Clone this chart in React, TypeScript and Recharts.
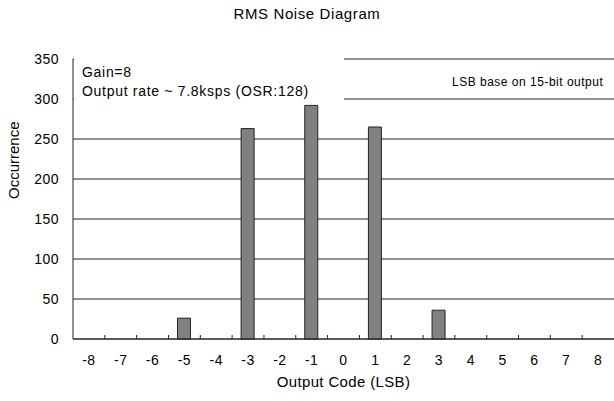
import { Bar, BarChart, CartesianGrid, XAxis, YAxis } from "recharts";

// output codes in LSB and how often each one occurred
const codes = [-8, -7, -6, -5, -4, -3, -2, -1, 0, 1, 2, 3, 4, 5, 6, 7, 8];
const counts = [0, 0, 0, 26, 0, 263, 0, 292, 0, 265, 0, 36, 0, 0, 0, 0, 0];
const yTicks = [0, 50, 100, 150, 200, 250, 300, 350];

const W = 614;
const H = 401;
const LEFT = 73;
const TOP = 59;
const BAND = (W - LEFT) / codes.length;
const FONT = "'Liberation Sans', Arial, sans-serif";

const data = codes.map((code, i) => ({ code: String(code), count: counts[i] }));

function CodeTick(props: any) {
  const { x, y, payload, index } = props;
  return (
    <g>
      {index < codes.length - 1 && (
        <line x1={x + BAND / 2} x2={x + BAND / 2} y1={y - 4} y2={y} stroke="#222" />
      )}
      <text x={x} y={y + 26} textAnchor="middle" fontSize={14} letterSpacing={0.5} fill="#000" fontFamily={FONT}>
        {payload.value}
      </text>
    </g>
  );
}

export default function App() {
  return (
    <div style={{ position: "absolute", left: 0, top: 0, width: W, height: H, background: "#fff", fontFamily: FONT }}>
      <div style={{ position: "absolute", top: 5, left: 0, width: W, textAlign: "center", fontSize: 15, letterSpacing: 0.6 }}>
        RMS Noise Diagram
      </div>
      <BarChart width={W} height={H} data={data} margin={{ top: TOP, right: 0, bottom: 12, left: 0 }} barSize={13}>
        <CartesianGrid vertical={false} stroke="#222" />
        <XAxis
          dataKey="code"
          height={50}
          tickLine={false}
          tickSize={0}
          tickMargin={0}
          stroke="#222"
          tick={<CodeTick />}
          interval={0}
          label={{ value: "Output Code (LSB)", position: "insideBottom", offset: 2, fontSize: 15, letterSpacing: 0.35, fill: "#000", fontFamily: FONT }}
        />
        <YAxis
          width={LEFT}
          domain={[0, 350]}
          ticks={yTicks}
          tickLine={false}
          tickSize={6}
          tickMargin={8}
          stroke="#222"
          tick={{ fontSize: 14, fill: "#000", fontFamily: FONT, letterSpacing: 0.5 }}
          label={{ value: "Occurrence", angle: -90, position: "insideLeft", offset: 14, fontSize: 15, fill: "#000", fontFamily: FONT }}
        />
        <Bar dataKey="count" fill="#808080" stroke="#222" strokeWidth={1} isAnimationActive={false} />
      </BarChart>
      <div style={{ position: "absolute", left: 74, top: 58, width: 270, height: 42, background: "#fff", fontSize: 14, lineHeight: "19px", letterSpacing: 0.7 }}>
        <div style={{ paddingLeft: 8, paddingTop: 5 }}>Gain=8</div>
        <div style={{ paddingLeft: 8 }}>Output rate ~ 7.8ksps (OSR:128)</div>
      </div>
      <div style={{ position: "absolute", left: 452, top: 75, fontSize: 12, letterSpacing: 0.5 }}>LSB base on 15-bit output</div>
    </div>
  );
}
